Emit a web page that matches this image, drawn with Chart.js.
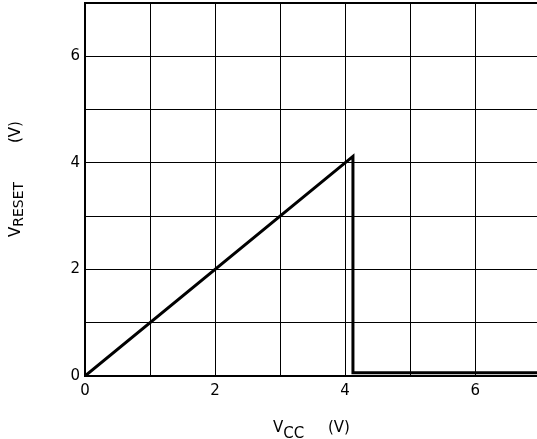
<!DOCTYPE html>
<html>
<head>
<meta charset="utf-8">
<script src="https://cdn.jsdelivr.net/npm/chart.js@4"></script>
<style>
  body { margin: 0; background: #fff; }
  #wrap { width: 537px; height: 439px; position: relative; }
</style>
</head>
<body>
<div id="wrap"><canvas id="resetChart"></canvas></div>
<script>
    // values
    const vccValues = [0, 4.12, 4.12, 6.95];
    const vresetValues = [0, 4.12, 0.06, 0.06];
    const xTickLabels = [0, 2, 4, 6];
    const yTickLabels = [0, 2, 4, 6];

    const points = vccValues.map(function(x, i) {
        return { x: x, y: vresetValues[i] };
    });

    const FONT = '"DejaVu Sans", sans-serif';

    // axis titles with subscripts
    const titlePlugin = {
        id: 'subTitles',
        afterDraw: function(chart) {
            const c = chart.ctx;
            c.save();
            c.fillStyle = '#000';
            c.textBaseline = 'alphabetic';
            c.textAlign = 'left';

            // x title: V_CC (V)
            let x = 273, y = 432;
            c.font = '15px ' + FONT;
            c.fillText('V', x, y);
            x += c.measureText('V').width;
            c.fillText('CC', x, y + 6);
            c.fillText('(V)', 328, y);

            // y title: V_RESET (V), rotated
            c.translate(20, 237);
            c.rotate(-Math.PI / 2);
            c.font = '15px ' + FONT;
            c.fillText('V', 0, 0);
            const w = c.measureText('V').width;
            c.font = '14px ' + FONT;
            c.fillText('RESET', w, 3);
            c.font = '15px ' + FONT;
            c.fillText('(V)', 94, 0);
            c.restore();
        }
    };

    const ctx = document.getElementById('resetChart').getContext('2d');
    const resetChart = new Chart(ctx, {
        type: 'line',
        data: {
            datasets: [
                {
                    label: 'VRESET',
                    data: points,
                    borderColor: '#000',
                    borderWidth: 3,
                    pointRadius: 0,
                    tension: 0,
                    fill: false
                }
            ]
        },
        options: {
            responsive: true,
            maintainAspectRatio: false,
            animation: false,
            layout: { padding: { top: 3, right: 0, left: 0, bottom: 0 } },
            scales: {
                x: {
                    type: 'linear',
                    min: 0,
                    max: 6.95,
                    afterFit: function(scale) {
                        scale.height = 63;
                        scale.paddingLeft = 0;
                        scale.paddingRight = 0;
                    },
                    afterBuildTicks: function(scale) {
                        scale.ticks = [0, 1, 2, 3, 4, 5, 6].map(function(v) { return { value: v }; });
                    },
                    ticks: {
                        color: '#000',
                        font: { family: FONT, size: 15 },
                        padding: 6,
                        maxRotation: 0,
                        callback: function(value) {
                            return xTickLabels.includes(value) ? String(value) : '';
                        }
                    },
                    grid: { color: '#000', lineWidth: 1, drawTicks: false },
                    border: { display: true, color: '#000', width: 2 }
                },
                y: {
                    type: 'linear',
                    min: 0,
                    max: 7,
                    afterFit: function(scale) {
                        scale.width = 85;
                        scale.paddingTop = 0;
                        scale.paddingBottom = 0;
                    },
                    afterBuildTicks: function(scale) {
                        scale.ticks = [0, 1, 2, 3, 4, 5, 6, 7].map(function(v) { return { value: v }; });
                    },
                    ticks: {
                        color: '#000',
                        font: { family: FONT, size: 15 },
                        padding: 5,
                        callback: function(value) {
                            return yTickLabels.includes(value) ? String(value) : '';
                        }
                    },
                    grid: {
                        color: '#000',
                        lineWidth: function(c) { return c.tick && c.tick.value === 7 ? 2 : 1; },
                        drawTicks: false
                    },
                    border: { display: true, color: '#000', width: 2 }
                }
            },
            plugins: {
                legend: { display: false },
                tooltip: { enabled: false }
            }
        },
        plugins: [titlePlugin]
    });
</script>
</body>
</html>
